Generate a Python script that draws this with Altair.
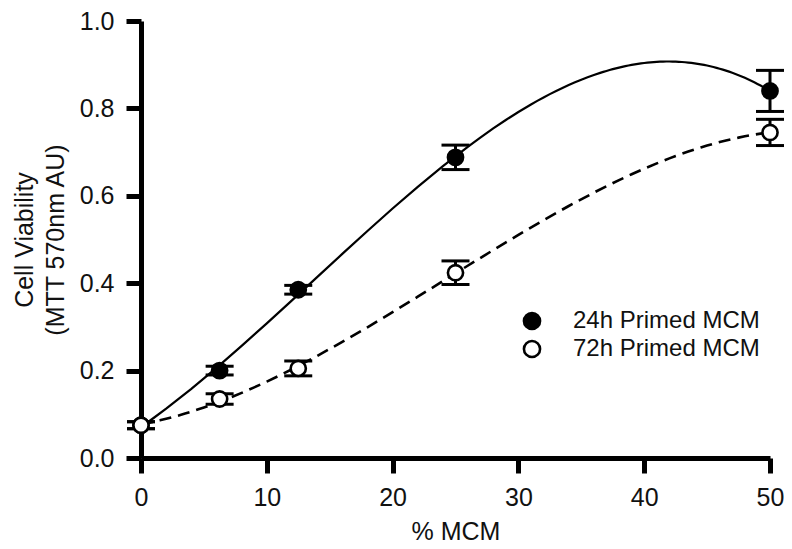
import altair as alt
import pandas as pd

conc = [0, 6.25, 12.5, 25, 50]
v24 = [0.075, 0.200, 0.385, 0.688, 0.840]
e24 = [0.008, 0.010, 0.010, 0.028, 0.047]
v72 = [0.075, 0.135, 0.205, 0.424, 0.745]
e72 = [0.008, 0.012, 0.017, 0.027, 0.030]
series = ["24h Primed MCM", "72h Primed MCM"]
x_ticks = [0, 10, 20, 30, 40, 50]
y_ticks = [0.0, 0.2, 0.4, 0.6, 0.8, 1.0]

rows = []
for s, vals, errs in [(series[0], v24, e24), (series[1], v72, e72)]:
    for x, v, e in zip(conc, vals, errs):
        rows.append(dict(conc=x, value=v, lo=v - e, hi=v + e, series=s))
df = pd.DataFrame(rows)

FONT = "Liberation Sans"

xenc = alt.X("conc:Q",
             scale=alt.Scale(domain=[0, 50], nice=False, zero=False),
             axis=alt.Axis(values=x_ticks, title="% MCM", format="d", labelFlush=False))
yenc = alt.Y("value:Q",
             scale=alt.Scale(domain=[0, 1], nice=False),
             axis=alt.Axis(values=y_ticks, format=".1f", labelFlush=False,
                           title=["Cell Viability", "(MTT 570nm AU)"]))

base = alt.Chart(df)

curve24 = base.transform_filter(alt.datum.series == series[0]).transform_regression(
    "conc", "value", method="poly", order=3, extent=[0, 50]
).mark_line(color="black", strokeWidth=2.2).encode(x=xenc, y=yenc)

curve72 = base.transform_filter(alt.datum.series == series[1]).transform_regression(
    "conc", "value", method="poly", order=3, extent=[0, 50]
).mark_line(color="black", strokeWidth=2.6, strokeDash=[12, 7]).encode(x=xenc, y=yenc)

err_rule = base.mark_rule(color="black", strokeWidth=3, opacity=1).encode(
    x=xenc, y=alt.Y("lo:Q"), y2="hi:Q")
cap_lo = base.mark_tick(color="black", orient="horizontal", size=28, thickness=3,
                        opacity=1).encode(x=xenc, y=alt.Y("lo:Q"))
cap_hi = base.mark_tick(color="black", orient="horizontal", size=28, thickness=3,
                        opacity=1).encode(x=xenc, y=alt.Y("hi:Q"))

points = base.mark_point(shape="circle", size=230, stroke="black", strokeWidth=2.6,
                         opacity=1, fillOpacity=1).encode(
    x=xenc, y=yenc,
    fill=alt.Fill("series:N",
                  scale=alt.Scale(domain=series, range=["black", "white"]),
                  legend=alt.Legend(title=None, orient="none", legendX=379, legendY=288,
                                    symbolType="circle", symbolSize=260,
                                    symbolStrokeColor="black", symbolStrokeWidth=2.6,
                                    labelFont=FONT, labelFontSize=24, labelColor="#111",
                                    labelOffset=29, labelLimit=400, rowPadding=0)),
    order=alt.Order("series:N", sort="ascending"),
)

chart = alt.layer(curve24, curve72, err_rule, cap_lo, cap_hi, points).properties(
    width=629, height=437,
    autosize=alt.AutoSizeParams(type="none"),
    padding={"left": 133, "top": 13, "right": 14, "bottom": 90},
).configure_view(stroke=None).configure_axis(
    grid=False,
    domainColor="black", domainWidth=5,
    tickColor="black", tickWidth=5, tickSize=15,
    labelFont=FONT, labelFontSize=25, labelColor="#111", labelPadding=12,
    titleFont=FONT, titleFontSize=25, titleFontWeight="normal", titleColor="#111",
).configure_axisY(titlePadding=11, titleLineHeight=31).configure_axisX(titlePadding=9)

chart.save("out.html", embed_options={"renderer": "svg", "actions": False})
